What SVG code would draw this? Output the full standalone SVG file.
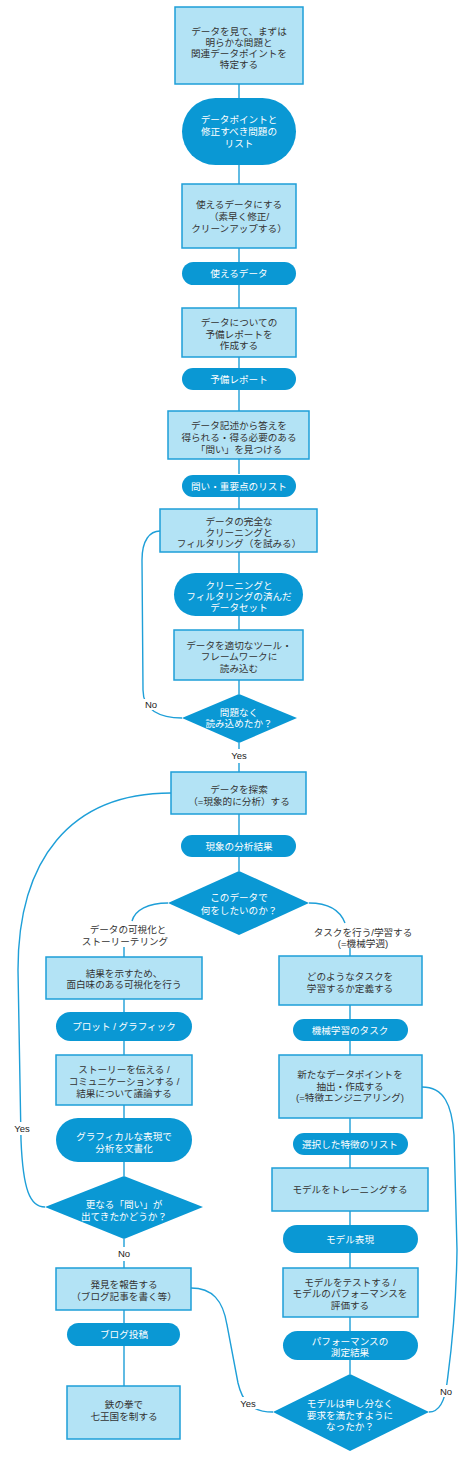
<svg xmlns="http://www.w3.org/2000/svg" width="474" height="1466" viewBox="0 0 474 1466">
<style>
.bg{fill:#ffffff}
.box{fill:#b3e3f5;stroke:#1e9fd8;stroke-width:1.5}
.pill{fill:#0a98d4}
.dia{fill:#0a98d4}
.t{font-family:"Liberation Sans","Noto Sans CJK JP",sans-serif;font-size:9.6px;fill:#333333;text-anchor:middle}
.w{fill:#ffffff}
.lbl{font-family:"Liberation Sans","Noto Sans CJK JP",sans-serif;font-size:9.5px;fill:#222222;text-anchor:middle}
.c{fill:none;stroke:#1e9fd8;stroke-width:1.4}
.lb{fill:#ffffff}
</style>
<rect class="bg" x="0" y="0" width="474" height="1466"/>
<g id="connectors">
<path class="c" d="M239,84V98M239,165V184M239,248V262M239,285V308M239,357V368M239,390V411M239,459V474M239,497V509M239,552V573M239,616V630M239,680V694M239,743V749M239,763V772M239,814V835M239,857V871"/>
<path class="c" d="M182,718C160,718 143,710 143,690L142,560C142,540 150,531 160,531"/>
<path class="c" d="M168,903C148,903 135,910 132,921M124,947V957"/>
<path class="c" d="M309,903C328,903 340,910 345,923M350,948V957"/>
<path class="c" d="M124,999V1012M124,1041V1055M124,1105V1118M124,1162V1176M124,1239V1247M124,1261V1268M124,1310V1323M124,1346V1386"/>
<path class="c" d="M350,1005V1019M350,1041V1055M350,1118V1133M350,1155V1168M350,1211V1225M350,1253V1268M350,1317V1331M350,1360V1374"/>
<path class="c" d="M171,793C70,793 18,860 18,970L21,1140C23,1190 30,1207 45,1207"/>
<path class="c" d="M191,1288C212,1288 223,1300 227,1325L238,1383C242,1400 250,1412 273,1412"/>
<path class="c" d="M422,1087C444,1087 452,1105 454,1135L457,1250C456,1320 450,1360 447,1383C445,1400 440,1412 429,1412"/>
</g>
<g id="labels">
<rect class="lb" x="142" y="699" width="18" height="11"/>
<text class="lbl" x="151" y="708">No</text>
<rect class="lb" x="228" y="750" width="22" height="12"/>
<text class="lbl" x="239" y="759">Yes</text>
<rect class="lb" x="10" y="1122" width="24" height="13"/>
<text class="lbl" x="22" y="1132">Yes</text>
<rect class="lb" x="113" y="1248" width="22" height="12"/>
<text class="lbl" x="124" y="1257">No</text>
<rect class="lb" x="237" y="1397" width="24" height="12"/>
<text class="lbl" x="248" y="1407">Yes</text>
<rect class="lb" x="436" y="1385" width="20" height="12"/>
<text class="lbl" x="446" y="1395">No</text>
<text class="t" x="128" y="933">データの可視化と</text>
<text class="t" x="125" y="945">ストーリーテリング</text>
<text class="t" x="363" y="936">タスクを行う/学習する</text>
<text class="t" x="363" y="947">(=機械学週)</text>
</g>
<g id="n1"><rect class="box" x="175" y="7" width="128" height="77"/>
<text class="t" x="239" y="35">データを見て、まずは</text><text class="t" x="239" y="46">明らかな問題と</text><text class="t" x="239" y="57">関連データポイントを</text><text class="t" x="239" y="68">特定する</text></g>
<g id="n2"><rect class="pill" x="182" y="98" width="114" height="67" rx="33.5"/>
<text class="t w" x="239" y="123">データポイントと</text><text class="t w" x="239" y="135">修正すべき問題の</text><text class="t w" x="239" y="147">リスト</text></g>
<g id="n3"><rect class="box" x="182" y="184" width="114" height="64"/>
<text class="t" x="239" y="208">使えるデータにする</text><text class="t" x="239" y="220">（素早く修正/</text><text class="t" x="239" y="232">クリーンアップする）</text></g>
<g id="n4"><rect class="pill" x="182" y="262" width="114" height="23" rx="11.5"/>
<text class="t w" x="239" y="277">使えるデータ</text></g>
<g id="n5"><rect class="box" x="182" y="308" width="114" height="49"/>
<text class="t" x="239" y="326">データについての</text><text class="t" x="239" y="338">予備レポートを</text><text class="t" x="239" y="349">作成する</text></g>
<g id="n6"><rect class="pill" x="182" y="368" width="114" height="22" rx="11"/>
<text class="t w" x="239" y="383">予備レポート</text></g>
<g id="n7"><rect class="box" x="168" y="411" width="141" height="48"/>
<text class="t" x="239" y="429">データ記述から答えを</text><text class="t" x="239" y="441">得られる・得る必要のある</text><text class="t" x="239" y="453">「問い」を見つける</text></g>
<g id="n8"><rect class="pill" x="182" y="475" width="114" height="22" rx="11"/>
<text class="t w" x="239" y="490">問い・重要点のリスト</text></g>
<g id="n9"><rect class="box" x="160" y="509" width="157" height="43"/>
<text class="t" x="239" y="525">データの完全な</text><text class="t" x="239" y="536">クリーニングと</text><text class="t" x="239" y="547">フィルタリング（を試みる）</text></g>
<g id="n10"><rect class="pill" x="174" y="573" width="129" height="43" rx="21.5"/>
<text class="t w" x="239" y="589">クリーニングと</text><text class="t w" x="239" y="600">フィルタリングの済んだ</text><text class="t w" x="239" y="611">データセット</text></g>
<g id="n11"><rect class="box" x="174" y="630" width="129" height="50"/>
<text class="t" x="239" y="649">データを適切なツール・</text><text class="t" x="239" y="660">フレームワークに</text><text class="t" x="239" y="672">読み込む</text></g>
<g id="n12"><polygon class="dia" points="239,694 297,718 239,743 182,718"/>
<text class="t w" x="239" y="716">問題なく</text><text class="t w" x="239" y="727">読み込めたか？</text></g>
<g id="n13"><rect class="box" x="171" y="772" width="135" height="42"/>
<text class="t" x="239" y="793">データを探索</text><text class="t" x="239" y="805">（=現象的に分析）する</text></g>
<g id="n14"><rect class="pill" x="181" y="835" width="115" height="22" rx="11"/>
<text class="t w" x="239" y="850">現象の分析結果</text></g>
<g id="n15"><polygon class="dia" points="239,871 309,903 239,935 168,903"/>
<text class="t w" x="239" y="901">このデータで</text><text class="t w" x="239" y="914">何をしたいのか？</text></g>
<g id="n16"><rect class="box" x="46" y="957" width="156" height="42"/>
<text class="t" x="124" y="977">結果を示すため、</text><text class="t" x="124" y="988">面白味のある可視化を行う</text></g>
<g id="n17"><rect class="pill" x="56" y="1012" width="136" height="29" rx="14.5"/>
<text class="t w" x="124" y="1030">プロット / グラフィック</text></g>
<g id="n18"><rect class="box" x="56" y="1055" width="136" height="50"/>
<text class="t" x="124" y="1073">ストーリーを伝える /</text><text class="t" x="124" y="1085">コミュニケーションする /</text><text class="t" x="124" y="1097">結果について議論する</text></g>
<g id="n19"><rect class="pill" x="56" y="1118" width="136" height="44" rx="22"/>
<text class="t w" x="124" y="1140">グラフィカルな表現で</text><text class="t w" x="124" y="1152">分析を文書化</text></g>
<g id="n20"><polygon class="dia" points="124,1176 203,1207 124,1239 45,1207"/>
<text class="t w" x="124" y="1208">更なる「問い」が</text><text class="t w" x="124" y="1220">出てきたかどうか？</text></g>
<g id="n21"><rect class="box" x="56" y="1268" width="135" height="42"/>
<text class="t" x="124" y="1288">発見を報告する</text><text class="t" x="124" y="1300">（ブログ記事を書く等）</text></g>
<g id="n22"><rect class="pill" x="67" y="1323" width="113" height="23" rx="11.5"/>
<text class="t w" x="124" y="1338">ブログ投稿</text></g>
<g id="n23"><rect class="box" x="67" y="1386" width="113" height="53"/>
<text class="t" x="124" y="1408">鉄の拳で</text><text class="t" x="124" y="1420">七王国を制する</text></g>
<g id="n24"><rect class="box" x="279" y="956" width="143" height="49"/>
<text class="t" x="350" y="980">どのようなタスクを</text><text class="t" x="350" y="992">学習するか定義する</text></g>
<g id="n25"><rect class="pill" x="293" y="1019" width="115" height="22" rx="11"/>
<text class="t w" x="350" y="1034">機械学習のタスク</text></g>
<g id="n26"><rect class="box" x="279" y="1055" width="143" height="63"/>
<text class="t" x="350" y="1078">新たなデータポイントを</text><text class="t" x="350" y="1090">抽出・作成する</text><text class="t" x="350" y="1101">(=特徴エンジニアリング)</text></g>
<g id="n27"><rect class="pill" x="293" y="1133" width="115" height="22" rx="11"/>
<text class="t w" x="350" y="1148">選択した特徴のリスト</text></g>
<g id="n28"><rect class="box" x="272" y="1168" width="156" height="43"/>
<text class="t" x="350" y="1193">モデルをトレーニングする</text></g>
<g id="n29"><rect class="pill" x="283" y="1225" width="135" height="28" rx="14"/>
<text class="t w" x="350" y="1243">モデル表現</text></g>
<g id="n30"><rect class="box" x="283" y="1268" width="135" height="49"/>
<text class="t" x="350" y="1286">モデルをテストする /</text><text class="t" x="350" y="1297">モデルのパフォーマンスを</text><text class="t" x="350" y="1309">評価する</text></g>
<g id="n31"><rect class="pill" x="283" y="1331" width="135" height="29" rx="14.5"/>
<text class="t w" x="350" y="1345">パフォーマンスの</text><text class="t w" x="350" y="1356">測定結果</text></g>
<g id="n32"><polygon class="dia" points="350,1374 429,1412 350,1451 273,1412"/>
<text class="t w" x="350" y="1407">モデルは申し分なく</text><text class="t w" x="350" y="1419">要求を満たすように</text><text class="t w" x="350" y="1430">なったか？</text></g>
</svg>
